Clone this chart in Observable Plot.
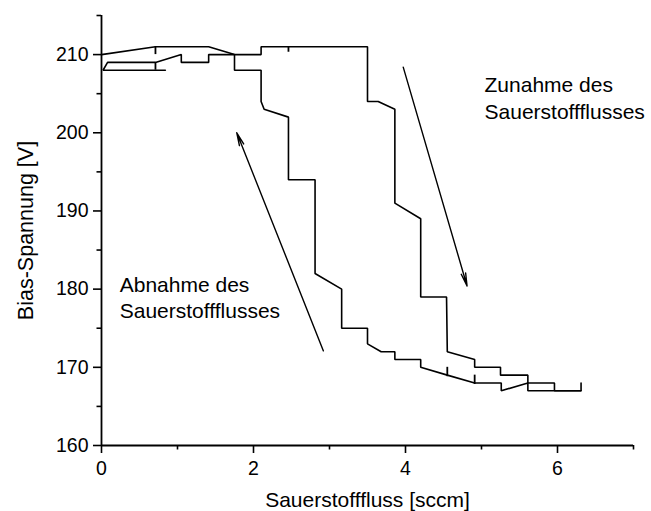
<!DOCTYPE html>
<html>
<head>
<meta charset="utf-8">
<script src="https://cdn.jsdelivr.net/npm/d3@7"></script>
<script src="https://cdn.jsdelivr.net/npm/@observablehq/plot@0.6"></script>
<style>
  html, body { margin: 0; padding: 0; background: white; }
</style>
</head>
<body>
<div id="chart"></div>
<script>
// Zunahme (increase of oxygen flow)
const xIncrease = [0, 0.71, 1.41, 1.75, 2.1, 2.1, 3.5, 3.5, 3.64, 3.86, 3.86, 4.2, 4.2, 4.54, 4.55, 4.91, 4.91, 5.25, 5.25, 5.61, 5.61, 5.96, 5.96, 6.31];
const yIncrease = [210, 211, 211, 210, 210, 211, 211, 204, 204, 203, 191, 189, 179, 179, 172, 171, 170, 170, 169, 169, 168, 168, 167, 167];
// Abnahme (decrease of oxygen flow)
const xDecrease = [6.31, 6.31, 5.61, 5.61, 5.26, 5.26, 4.91, 4.55, 4.2, 4.2, 3.86, 3.86, 3.68, 3.5, 3.5, 3.16, 3.16, 2.81, 2.81, 2.46, 2.46, 2.14, 2.1, 2.1, 1.75, 1.75, 1.41, 1.41, 1.05, 1.05, 0.71, 0.08, 0.02, 0.84];
const yDecrease = [168, 167, 167, 168, 167, 168, 168, 169, 170, 171, 171, 172, 172, 173, 175, 175, 180, 182, 194, 194, 202, 203, 204, 208, 208, 210, 210, 209, 209, 210, 209, 209, 208, 208];
// small vertical stubs on the curves
const stubX = [0.71, 0.71, 2.46, 4.55, 4.91];
const stubY1 = [211, 209, 211, 170, 169];
const stubY2 = [210, 208, 210.3, 168.8, 167.8];

const xMajor = [0, 2, 4, 6];
const xMinor = [1, 3, 5, 7];
const yMajor = [160, 170, 180, 190, 200, 210];
const yMinor = [165, 175, 185, 195, 205, 215];

const xLabel = "Sauerstofffluss [sccm]";
const yLabel = "Bias-Spannung [V]";

const notes = [
  {x: 5.04, y: 207.6, text: "Zunahme des\nSauerstoffflusses"},
  {x: 0.24, y: 182.1, text: "Abnahme des\nSauerstoffflusses"}
];
const arrows = [
  {x1: 3.97, y1: 208.4, x2: 4.81, y2: 180.4},
  {x1: 2.92, y1: 172.1, x2: 1.78, y2: 200.0}
];

const inc = xIncrease.map((x, i) => ({x, y: yIncrease[i]}));
const dec = xDecrease.map((x, i) => ({x, y: yDecrease[i]}));
const stubs = stubX.map((x, i) => ({x, y1: stubY1[i], y2: stubY2[i]}));

const font = "'Liberation Sans', Arial, Helvetica, sans-serif";
const tickFont = 19.5;

const chart = Plot.plot({
  width: 651,
  height: 511,
  marginLeft: 101,
  marginRight: 18,
  marginTop: 15,
  marginBottom: 66,
  style: {fontFamily: font, background: "white", color: "black", overflow: "visible"},
  x: {domain: [0, 7], axis: null},
  y: {domain: [160, 215], axis: null},
  marks: [
    Plot.axisX({ticks: xMajor, tickSize: 8, tickFormat: () => "", label: null, strokeWidth: 1.6}),
    Plot.axisX({ticks: xMinor, tickSize: 4.5, tickFormat: () => "", label: null, strokeWidth: 1.6}),
    Plot.axisY({ticks: yMajor, tickSize: 8, tickFormat: () => "", label: null, strokeWidth: 1.6}),
    Plot.axisY({ticks: yMinor, tickSize: 4.5, tickFormat: () => "", label: null, strokeWidth: 1.6}),
    Plot.text(xMajor, {x: d => d, frameAnchor: "bottom", dy: 16, text: d => String(d), textAnchor: "middle", lineAnchor: "top", fontSize: tickFont, fill: "black"}),
    Plot.text(yMajor, {y: d => d, frameAnchor: "left", dx: -13, text: d => String(d), textAnchor: "end", lineAnchor: "middle", fontSize: tickFont, fill: "black"}),
    Plot.ruleX([0], {y1: 160, y2: 215, strokeWidth: 1.8}),
    Plot.ruleY([160], {x1: 0, x2: 7, strokeWidth: 1.8}),
    Plot.line(inc, {x: "x", y: "y", stroke: "black", strokeWidth: 1.6, strokeLinejoin: "miter"}),
    Plot.line(dec, {x: "x", y: "y", stroke: "black", strokeWidth: 1.6, strokeLinejoin: "miter"}),
    Plot.ruleX(stubs, {x: "x", y1: "y1", y2: "y2", stroke: "black", strokeWidth: 1.8}),
    Plot.arrow(arrows, {x1: "x1", y1: "y1", x2: "x2", y2: "y2", stroke: "black", strokeWidth: 1.4, headLength: 14, headAngle: 20, bend: 0}),
    Plot.text(notes, {x: "x", y: "y", text: "text", textAnchor: "start", lineAnchor: "top", fontSize: 21, lineHeight: 1.27, fill: "black"}),
    Plot.text([xLabel], {frameAnchor: "bottom", dy: 47, textAnchor: "middle", lineAnchor: "top", fontSize: 21, fill: "black"}),
    Plot.text([yLabel], {frameAnchor: "left", dx: -84, rotate: -90, textAnchor: "middle", lineAnchor: "top", fontSize: 21.5, fill: "black"})
  ]
});
document.getElementById("chart").appendChild(chart);
</script>
</body>
</html>
